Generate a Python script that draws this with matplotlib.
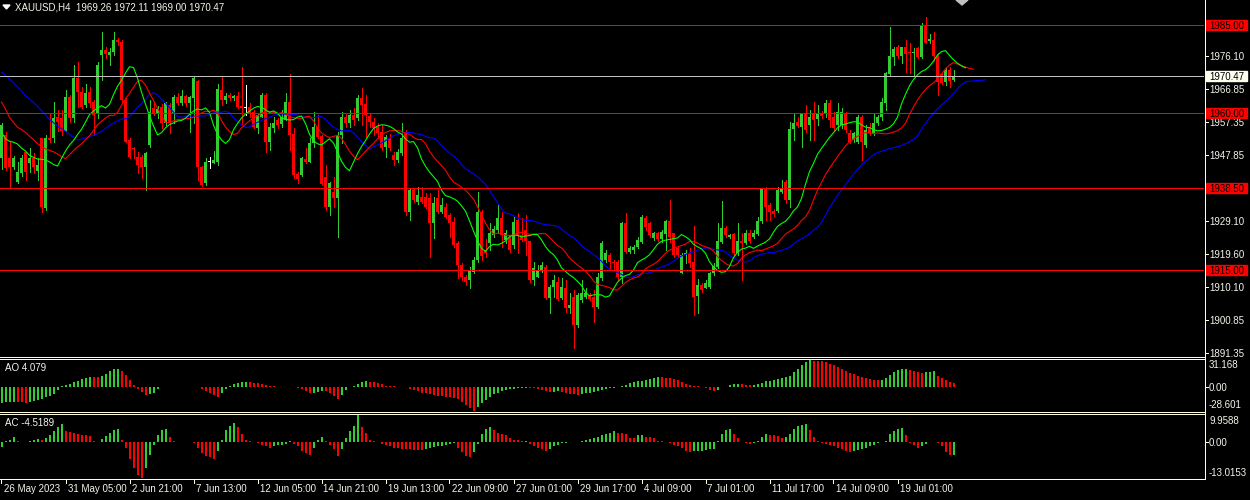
import numpy as np
import matplotlib
matplotlib.use("Agg")
import matplotlib.pyplot as plt
from matplotlib.patches import Polygon, Rectangle
from matplotlib.lines import Line2D

W, H = 1250, 500

# ---------------- data ----------------
opens = [1946.9,1953.6,1946.9,1944.6,1940.3,1942.7,1948.8,1945.5,1946.9,1943.4,
 1952.6,1932.7,1952.6,1952.6,1958.8,1958.4,1954.6,1964.5,1958.4,1969.8,
 1966.0,1962.2,1966.0,1963.1,1959.8,1976.4,1977.9,1976.4,1977.4,1980.7,
 1980.2,1963.6,1952.2,1950.0,1947.4,1947.4,1944.6,1950.7,1961.2,1959.8,
 1961.5,1956.9,1962.2,1959.8,1964.5,1962.6,1964.7,1962.6,1964.1,1969.0,
 1944.6,1939.8,1946.0,1945.5,1946.0,1966.4,1963.6,1965.0,1964.1,1964.7,
 1961.9,1961.4,1961.7,1960.3,1955.5,1958.8,1965.0,1951.7,1955.5,1957.9,
 1956.7,1957.9,1963.1,1953.9,1942.5,1942.2,1946.8,1946.0,1951.2,1956.0,
 1953.3,1941.7,1933.1,1937.4,1935.5,1953.6,1958.8,1957.0,1959.3,1958.4,
 1964.1,1962.4,1959.0,1957.4,1956.0,1954.5,1950.3,1952.6,1947.9,1946.5,
 1948.4,1954.5,1931.7,1937.9,1934.6,1936.0,1936.0,1935.5,1928.4,1935.5,
 1931.7,1933.1,1930.8,1928.9,1922.7,1916.5,1913.2,1912.2,1914.6,1917.9,
 1931.7,1920.8,1922.7,1925.05,1926.5,1929.8,1923.5,1924.6,1922.2,1929.3,
 1925.05,1926.5,1923.2,1912.2,1913.2,1915.1,1916.0,1907.0,1910.3,1911.7,
 1907.0,1909.8,1904.1,1907.45,1899.4,1906.5,1907.45,1907.9,1907.45,1904.6,
 1912.7,1917.9,1919.3,1917.4,1917.4,1913.2,1928.6,1920.3,1920.8,1921.7,
 1923.1,1929.8,1928.4,1924.1,1925.5,1923.8,1925.3,1929.05,1925.5,1921.3,
 1914.3,1919.3,1920.0,1917.4,1907.6,1910.8,1909.8,1910.3,1914.1,1916.0,
 1923.1,1927.1,1924.6,1925.2,1919.8,1923.3,1922.7,1925.5,1924.6,1925.3,
 1929.1,1938.4,1933.6,1932.0,1932.0,1937.4,1940.3,1935.0,1955.2,1957.4,
 1956.0,1959.8,1956.4,1959.8,1958.1,1959.8,1959.8,1962.8,1958.8,1956.4,
 1956.4,1959.8,1954.1,1952.2,1951.7,1958.8,1950.8,1955.5,1954.1,1956.9,
 1958.8,1962.8,1971.0,1975.9,1978.6,1976.1,1978.6,1977.4,1976.9,1978.3,
 1976.0,1985.0,1980.3,1980.7,1976.2,1971.0,1968.8,1972.1,1969.26]
highs = [1957.0,1954.5,1951.7,1947.5,1946.0,1947.9,1948.8,1949.8,1948.4,1946.9,
 1952.6,1953.6,1959.8,1963.1,1960.7,1960.7,1966.4,1965.0,1973.6,1974.5,
 1967.4,1968.3,1967.4,1963.6,1974.5,1983.1,1978.8,1978.3,1983.1,1981.2,
 1980.7,1964.1,1952.6,1950.3,1948.8,1947.9,1948.8,1963.6,1963.1,1962.0,
 1962.5,1963.1,1962.6,1965.0,1965.5,1966.4,1965.0,1964.7,1970.2,1969.3,
 1944.8,1947.0,1947.4,1949.1,1968.3,1970.4,1965.5,1965.5,1965.0,1966.0,
 1973.1,1967.9,1962.6,1960.7,1959.8,1965.5,1965.5,1956.9,1958.8,1958.5,
 1960.7,1965.5,1971.0,1955.5,1943.1,1947.4,1949.8,1952.6,1960.3,1959.3,
 1953.6,1945.0,1940.3,1941.7,1954.5,1960.3,1959.8,1960.7,1961.2,1965.0,
 1966.9,1965.0,1959.8,1958.4,1956.9,1956.4,1953.6,1954.0,1948.8,1949.5,
 1956.9,1955.0,1938.4,1938.4,1938.8,1938.8,1936.9,1936.9,1936.0,1937.9,
 1935.5,1934.1,1931.2,1930.3,1923.2,1917.0,1913.7,1916.0,1918.9,1937.4,
 1932.2,1923.8,1928.4,1927.5,1933.6,1931.7,1926.5,1925.0,1930.3,1931.2,
 1929.8,1930.8,1923.4,1917.4,1916.5,1917.4,1916.5,1910.8,1913.6,1913.2,
 1912.7,1912.2,1908.4,1909.4,1908.4,1912.2,1909.8,1908.4,1909.4,1914.1,
 1923.2,1920.8,1919.8,1917.9,1917.9,1928.9,1931.2,1922.0,1922.2,1924.6,
 1930.8,1930.5,1928.9,1926.0,1926.0,1926.5,1929.3,1935.0,1925.5,1921.8,
 1919.8,1920.8,1921.3,1927.6,1912.4,1911.3,1912.2,1914.6,1916.95,1928.4,
 1934.9,1927.6,1925.3,1925.5,1928.4,1925.7,1926.5,1926.5,1926.5,1930.3,
 1938.6,1938.8,1934.1,1932.5,1938.8,1940.75,1940.75,1957.4,1959.6,1958.8,
 1959.8,1962.2,1960.7,1963.1,1962.2,1960.5,1963.6,1963.6,1960.3,1962.6,
 1961.2,1960.3,1955.0,1954.5,1959.3,1959.3,1956.4,1956.9,1959.8,1959.3,
 1964.1,1971.7,1984.5,1978.8,1979.3,1978.8,1980.7,1979.8,1978.3,1978.8,
 1985.5,1987.4,1982.5,1983.1,1976.9,1971.7,1972.6,1973.1,1972.11]
lows = [1944.0,1943.5,1938.4,1944.0,1939.8,1942.0,1940.8,1943.1,1942.7,1940.8,
 1931.7,1932.2,1951.7,1951.7,1954.6,1953.6,1954.6,1957.4,1957.4,1961.7,
 1961.2,1961.7,1961.7,1953.6,1958.4,1969.3,1975.5,1973.6,1976.4,1979.3,
 1963.1,1951.5,1947.1,1946.9,1942.7,1941.2,1937.9,1950.3,1959.3,1958.5,
 1955.5,1956.4,1954.1,1956.9,1962.2,1962.2,1962.0,1954.5,1956.9,1940.7,
 1939.0,1939.3,1944.1,1945.5,1945.0,1962.2,1962.6,1963.6,1963.6,1961.2,
 1956.4,1959.3,1958.8,1955.5,1954.1,1958.8,1948.8,1949.3,1954.5,1955.5,
 1956.0,1957.9,1949.3,1941.2,1939.8,1941.9,1945.5,1946.0,1950.3,1952.6,
 1939.3,1932.2,1930.8,1933.1,1924.6,1951.2,1956.0,1956.0,1956.4,1957.9,
 1956.4,1953.1,1956.0,1953.6,1952.6,1949.3,1947.4,1949.3,1945.0,1946.0,
 1947.9,1930.8,1929.3,1934.6,1934.0,1934.1,1932.7,1918.9,1924.1,1931.2,
 1931.2,1929.8,1924.6,1921.7,1912.7,1912.2,1910.8,1909.8,1914.1,1917.4,
 1917.9,1918.9,1920.8,1924.6,1925.5,1921.7,1922.7,1920.3,1921.3,1919.8,
 1923.2,1919.3,1911.7,1910.8,1913.0,1914.6,1906.8,1902.7,1907.45,1906.5,
 1906.7,1903.2,1902.7,1892.7,1898.9,1906.0,1907.0,1906.5,1900.3,1904.1,
 1912.2,1917.4,1915.1,1915.1,1912.2,1911.3,1920.0,1919.8,1919.8,1921.3,
 1922.7,1926.5,1924.6,1923.6,1923.3,1923.1,1920.8,1923.1,1918.9,1918.9,
 1914.3,1917.0,1916.0,1902.2,1902.7,1908.9,1909.8,1909.8,1913.6,1915.5,
 1922.7,1924.6,1924.3,1919.3,1919.3,1912.2,1922.5,1922.7,1924.1,1925.05,
 1928.6,1929.3,1929.3,1930.5,1931.7,1936.9,1934.1,1933.1,1952.2,1956.0,
 1950.3,1954.5,1952.2,1952.2,1956.4,1958.5,1958.8,1956.0,1955.0,1955.0,
 1955.5,1954.5,1951.2,1951.7,1951.2,1946.5,1950.3,1953.6,1953.6,1956.4,
 1957.9,1960.7,1970.7,1973.6,1975.5,1974.1,1971.7,1971.2,1970.3,1975.5,
 1975.5,1979.8,1979.8,1974.6,1965.0,1968.3,1967.9,1967.4,1969.00]
closes = [1956.5,1944.1,1944.6,1946.9,1943.1,1946.9,1943.1,1946.9,1944.6,1945.0,
 1933.1,1952.6,1952.2,1958.4,1957.4,1954.6,1964.5,1958.4,1969.8,1966.0,
 1961.7,1965.5,1962.6,1959.3,1973.6,1977.9,1976.6,1977.4,1980.7,1980.2,
 1963.6,1951.7,1947.4,1949.6,1945.0,1944.6,1948.6,1960.3,1960.0,1961.0,
 1956.9,1962.6,1956.9,1964.5,1962.6,1964.7,1962.6,1964.5,1969.8,1944.6,
 1939.3,1946.0,1946.0,1946.5,1966.6,1963.6,1964.7,1964.1,1964.7,1961.7,
 1961.4,1961.4,1959.8,1956.0,1959.3,1965.0,1951.7,1956.0,1957.1,1956.4,
 1958.8,1963.1,1953.6,1942.2,1940.9,1946.9,1946.0,1951.2,1956.0,1953.1,
 1939.5,1933.1,1939.8,1935.5,1953.6,1958.8,1956.9,1959.3,1957.9,1964.1,
 1962.2,1959.3,1957.4,1955.5,1954.1,1949.8,1953.1,1949.8,1946.5,1948.8,
 1952.6,1931.7,1937.9,1935.0,1936.5,1934.6,1933.1,1928.4,1934.1,1931.7,
 1933.6,1930.3,1928.4,1922.2,1916.5,1913.2,1911.7,1915.1,1917.9,1931.7,
 1919.0,1919.8,1925.5,1926.9,1929.8,1925.05,1925.5,1920.8,1928.9,1925.05,
 1923.6,1923.2,1912.2,1915.5,1915.1,1916.5,1907.0,1910.3,1912.2,1906.7,
 1910.3,1904.1,1905.0,1899.4,1907.9,1908.4,1908.4,1906.7,1904.6,1913.2,
 1922.7,1919.8,1917.4,1916.95,1913.2,1928.6,1920.3,1921.3,1921.7,1923.6,
 1930.3,1927.4,1925.05,1925.5,1923.8,1926.0,1929.05,1924.6,1919.3,1919.3,
 1919.3,1920.0,1916.95,1907.4,1910.8,1909.4,1911.4,1914.3,1916.2,1923.3,
 1927.1,1925.05,1924.95,1919.8,1923.3,1922.7,1925.5,1923.3,1925.5,1929.1,
 1938.4,1933.1,1931.7,1931.05,1937.9,1938.4,1935.0,1955.2,1957.1,1956.2,
 1959.6,1955.0,1958.8,1957.9,1959.8,1959.0,1962.8,1957.9,1955.5,1960.3,
 1960.3,1955.0,1951.7,1954.1,1958.6,1951.7,1955.0,1954.1,1956.9,1958.8,
 1963.1,1971.2,1976.1,1978.1,1976.1,1978.6,1976.6,1976.9,1977.4,1976.0,
 1985.0,1980.0,1980.9,1976.2,1968.6,1968.5,1972.1,1969.0,1970.47]

ao_values = [-18.8,-18.5,-18.2,-17.9,-18.3,-18.6,-18.9,-17.5,-16.5,-15.5,
 -14.0,-12.5,-11.0,-9.0,-4.0,0.5,2.0,3.5,5.0,7.0,
 9.0,10.5,11.5,11.2,10.8,13.0,15.0,18.0,20.5,21.0,
 18.0,14.0,8.0,2.0,-3.0,-6.0,-10.0,-9.0,-7.0,-3.0,
 -1.0,-0.3,-0.5,-0.2,-0.4,-0.1,-0.3,-0.2,-0.5,-1.0,
 -3.0,-5.0,-7.5,-10.0,-12.5,-8.0,-3.0,0.5,3.0,4.5,
 5.0,5.3,5.0,4.5,4.0,3.0,2.0,1.0,0.3,0.1,
 -0.5,-0.3,-0.6,-0.8,-1.5,-3.0,-5.0,-8.0,-7.0,-6.0,
 -5.0,-5.5,-8.0,-11.0,-14.0,-10.0,-4.0,-0.5,0.5,3.0,
 5.0,6.0,5.8,5.5,4.0,2.5,1.0,0.3,0.2,0.1,
 -0.5,-1.0,-2.5,-4.0,-5.5,-7.0,-8.0,-9.0,-10.0,-11.0,
 -11.5,-12.0,-12.5,-13.0,-15.0,-18.0,-21.0,-24.5,-28.601,-24.0,
 -19.5,-15.5,-12.0,-9.0,-7.0,-5.0,-4.0,-3.0,-2.5,-2.0,
 -1.5,-1.2,-1.5,-2.0,-3.0,-4.0,-5.5,-6.5,-6.0,-5.5,
 -6.5,-7.5,-8.5,-9.0,-9.5,-9.0,-8.0,-7.0,-6.0,-5.0,
 -4.0,-3.0,-2.0,-1.5,-1.0,0.5,1.5,4.0,5.0,6.0,
 7.0,8.0,9.0,10.5,11.0,10.8,10.5,10.0,9.0,7.5,
 5.0,3.0,1.5,0.5,0.3,-1.0,-2.0,-4.0,-5.5,-3.5,
 -1.0,-0.5,2.0,3.0,3.5,2.5,2.0,1.5,2.0,3.0,
 4.5,6.0,7.0,8.0,9.0,10.5,11.0,13.0,17.0,21.0,
 25.0,28.5,31.168,30.5,30.0,29.5,28.5,27.0,25.0,23.0,
 20.5,18.5,16.5,14.5,13.0,11.0,10.0,9.0,8.3,7.6,
 8.2,9.8,14.0,17.5,19.5,20.5,21.0,19.5,18.0,17.0,
 16.5,17.0,17.5,18.0,12.5,10.0,7.5,5.5,4.079]

ac_values = [-1.6,0.5,1.0,1.8,0.3,0.2,0.1,0.5,1.0,1.3,
 1.0,1.5,2.5,4.0,5.5,6.5,4.0,3.6,3.3,3.1,
 2.8,2.5,2.2,0.5,0.2,1.2,2.3,3.5,4.4,4.9,
 1.0,-2.0,-6.0,-9.5,-11.8,-13.0153,-9.5,-4.5,-1.0,2.5,
 4.5,4.8,2.0,0.5,0.15,0.1,0.05,0.1,-0.3,-2.0,
 -4.0,-5.0,-5.5,-6.0,-3.0,1.0,4.5,6.0,7.0,5.5,
 3.0,1.0,0.3,0.1,-0.3,-0.8,-1.5,-2.2,-1.5,-1.0,
 -0.8,-0.6,0.3,-0.5,-1.5,-3.0,-4.0,-4.5,-2.0,1.0,
 2.0,0.3,-1.0,-2.5,-5.0,-2.5,1.5,4.0,6.0,9.9588,
 5.5,3.5,1.0,0.3,0.1,-0.5,-1.0,-1.5,-2.0,-2.2,
 -2.4,-2.5,-2.6,-2.7,-2.8,-2.9,-2.5,-2.2,-1.8,-1.5,
 -1.2,-1.0,-0.6,-0.3,-2.0,-3.5,-5.0,-5.2,-3.5,-0.5,
 3.0,5.0,5.5,4.5,3.5,3.0,2.5,1.5,1.0,0.7,
 0.4,0.6,-0.5,-1.2,-2.0,-2.5,-3.0,-2.5,-1.5,-0.8,
 -0.3,-0.1,0.1,0.05,0.2,0.4,0.8,1.2,1.6,2.0,
 2.5,3.0,3.5,4.0,3.5,3.3,3.0,1.5,1.4,2.5,
 2.8,2.0,1.8,1.5,0.6,0.3,0.1,-0.2,-0.8,-1.5,
 -2.2,-3.2,-3.5,-3.3,-3.2,-3.0,-2.7,-2.5,-2.3,0.5,
 3.0,4.5,4.8,3.0,1.5,0.1,-0.3,-0.5,-0.2,0.5,
 2.0,3.0,2.8,2.5,2.3,1.5,1.8,3.0,5.0,6.0,
 6.2,6.5,4.5,2.0,0.3,-0.2,-0.5,-1.0,-1.5,-2.0,
 -2.5,-3.0,-3.6,-3.1,-2.8,-2.5,-2.0,-1.5,-1.0,-0.3,
 0.2,0.5,3.0,4.0,5.0,5.2,2.5,-0.2,-1.0,-2.0,
 -1.5,-0.5,0.1,0.2,-0.3,-1.5,-3.5,-4.8,-4.5189]

# Alligator values just before the first visible bar
jaw_lead = [1971.5, 1970.6, 1969.6, 1968.5, 1967.3, 1966.2, 1964.8, 1963.9]
teeth_lead = [1963.0, 1961.0, 1958.6, 1957.2, 1955.8]
lips_lead = [1954.3, 1952.5, 1951.8]

levels = [1985.00, 1960.00, 1938.50, 1915.00]
bid = 1970.47
price_ticks = [1976.10, 1966.85, 1957.35, 1947.85, 1929.10, 1919.60,
               1910.10, 1900.85, 1891.35]
time_labels = ["26 May 2023", "31 May 05:00", "2 Jun 21:00", "7 Jun 13:00",
               "12 Jun 05:00", "14 Jun 21:00", "19 Jun 13:00", "22 Jun 09:00",
               "27 Jun 01:00", "29 Jun 17:00", "4 Jul 09:00", "7 Jul 01:00",
               "11 Jul 17:00", "14 Jul 09:00", "19 Jul 01:00"]
title = "XAUUSD,H4  1969.26 1972.11 1969.00 1970.47"
ao_range = (-28.601, 31.168)
ac_range = (-13.0153, 9.9588)

# ---------------- styles ----------------
BULL = "#32CD32"
BEAR = "#FF0000"
FG = "#FFFFE0"
TXT = "#F4F4EC"
FONT = ["Liberation Sans", "DejaVu Sans"]
FS = 7
LW = 0.72  # 1 pixel at 100 dpi
plt.rcParams["font.family"] = FONT

o = np.array(opens); h = np.array(highs); l = np.array(lows); c = np.array(closes)
n = len(o)
idx = np.arange(n)

fig = plt.figure(figsize=(W / 100, H / 100), dpi=100, facecolor="black")

def add_ax(x0, y0, x1, y1):
    ax = fig.add_axes([x0 / W, 1 - y1 / H, (x1 - x0) / W, (y1 - y0) / H])
    ax.set_facecolor("black")
    for s in ax.spines.values():
        s.set_visible(False)
    ax.set_xticks([]); ax.set_yticks([])
    ax.set_xlim(-0.375, 300.625)
    return ax

PLOT_R = 1204
ax = add_ax(0, 0, PLOT_R, 355)
px_per_unit = 3.503
ax.set_ylim(1985 - 330 / px_per_unit, 1985 + 25 / px_per_unit)

# candles
cols = np.where(c > o, BULL, np.where(c < o, BEAR, "#FFFFFF"))
ax.vlines(idx, l, h, colors=cols, linewidth=LW, antialiased=False, zorder=2)
body_lo = np.minimum(o, c)
body_h = np.maximum(np.abs(c - o), 0.3)
ax.bar(idx, body_h, bottom=body_lo, width=0.75, color=cols, linewidth=0,
       antialiased=False, zorder=3)

# Alligator (SMMA of median price, shifted)
med = (h + l) / 2
def smma(src, period, seed):
    out, v = [], seed
    for p in src:
        v = (v * (period - 1) + p) / period
        out.append(v)
    return np.array(out)

for lead, period, color in ((jaw_lead, 13, "#0000FF"),
                            (teeth_lead, 8, "#FF0000"),
                            (lips_lead, 5, "#00FF00")):
    vals = np.concatenate([lead, smma(med, period, lead[-1])])
    ax.plot(np.arange(len(vals)), vals, color=color, linewidth=0.8,
            antialiased=True, zorder=4)

# horizontal levels and bid line
for lv in levels:
    ax.axhline(lv, color="#FF0000", linewidth=LW, antialiased=False, zorder=5)
ax.axhline(bid, color="#C0C0C0", linewidth=LW, antialiased=False, zorder=5)

# right price scale
ytr = ax.get_yaxis_transform()
xl = 1209 / PLOT_R
for p in price_ticks:
    ax.text(xl, p, f"{p:.2f}", transform=ytr, color=TXT, fontsize=FS,
            va="center_baseline", ha="left", clip_on=False)
    ax.plot([1204.5 / PLOT_R, 1207.5 / PLOT_R], [p, p], transform=ytr, color=FG,
            linewidth=LW, antialiased=False, clip_on=False)
box_h = 10 / px_per_unit
for lv in levels:
    ax.add_patch(Rectangle((1206 / PLOT_R, lv - box_h / 2), 41 / PLOT_R, box_h,
                           transform=ytr, color="#FF0000", clip_on=False, zorder=6))
    ax.text(xl, lv, f"{lv:.2f}", transform=ytr, color="black", fontsize=FS,
            va="center_baseline", ha="left", clip_on=False, zorder=7)
ax.add_patch(Rectangle((1206 / PLOT_R, bid - box_h / 2), 41 / PLOT_R, box_h,
                       transform=ytr, color="#FFFFF0", clip_on=False, zorder=6))
ax.text(xl, bid, f"{bid:.2f}", transform=ytr, color="black", fontsize=FS,
        va="center_baseline", ha="left", clip_on=False, zorder=7)

# title
fig.text(15 / W, 1 - 7.5 / H, title, color=TXT, fontsize=FS, va="center", ha="left")
fig.add_artist(Polygon([[3 / W, 1 - 5 / H], [10 / W, 1 - 5 / H], [6.5 / W, 1 - 9 / H]],
                       closed=True, color="white", transform=fig.transFigure))
fig.add_artist(Polygon([[956 / W, 1.0], [968 / W, 1.0], [962 / W, 1 - 5 / H]],
                       closed=True, color="#C0C0C0", transform=fig.transFigure))

# oscillator panels
def osc_panel(vals, y0, y1, rng, name, fmt):
    a = add_ax(0, y0, PLOT_R, y1)
    a.set_ylim(*rng)
    v = np.array(vals)
    up = np.concatenate([[True], v[1:] > v[:-1]])
    colors = np.where(up, BULL, BEAR)
    a.bar(np.arange(len(v)) + 0.125, v, width=0.5, color=colors, linewidth=0,
          antialiased=False)
    a.text(5 / PLOT_R, 1 - 8 / (y1 - y0), f"{name} {fmt(v[-1])}",
           transform=a.transAxes, color=TXT, fontsize=FS, va="center", ha="left")
    t = a.get_yaxis_transform()
    a.text(xl, 0, "0.00", transform=t, color=TXT, fontsize=FS,
           va="center_baseline", ha="left", clip_on=False)
    a.plot([1204.5 / PLOT_R, 1207.5 / PLOT_R], [0, 0], transform=t, color=FG,
           linewidth=LW, antialiased=False, clip_on=False)
    fig.text(1209 / W, 1 - (y0 + 0.5) / H, fmt(rng[1]), color=TXT, fontsize=FS,
             va="top", ha="left")
    fig.text(1209 / W, 1 - (y1 - 0.5) / H, fmt(rng[0]), color=TXT, fontsize=FS,
             va="bottom", ha="left")
    return a

osc_panel(ao_values, 360, 411, ao_range, "AO", lambda x: f"{x:.3f}")
osc_panel(ac_values, 415, 478, ac_range, "AC", lambda x: f"{x:.4f}")

# frame lines
def hline(y, x0=0, x1=1204.5):
    fig.add_artist(Line2D([x0 / W, x1 / W], [1 - y / H] * 2, color=FG,
                          linewidth=LW, antialiased=False, transform=fig.transFigure))
for y in (356.5, 358.5, 411.5, 413.5, 478.5):
    hline(y)
fig.add_artist(Line2D([1204.5 / W] * 2, [1.0, 1 - 478.5 / H], color=FG,
                      linewidth=LW, antialiased=False, transform=fig.transFigure))

# time axis
step = 16
for i, lab in enumerate(time_labels):
    xp = (i * step + 0.375) * 4
    fig.add_artist(Line2D([xp / W] * 2, [1 - 478.5 / H, 1 - 483 / H], color=FG,
                          linewidth=LW, antialiased=False, transform=fig.transFigure))
    fig.text((xp + 2) / W, 1 - 489 / H, lab, color=TXT, fontsize=FS,
             va="center", ha="left")

fig.savefig("out.png", dpi=100, facecolor="black")
